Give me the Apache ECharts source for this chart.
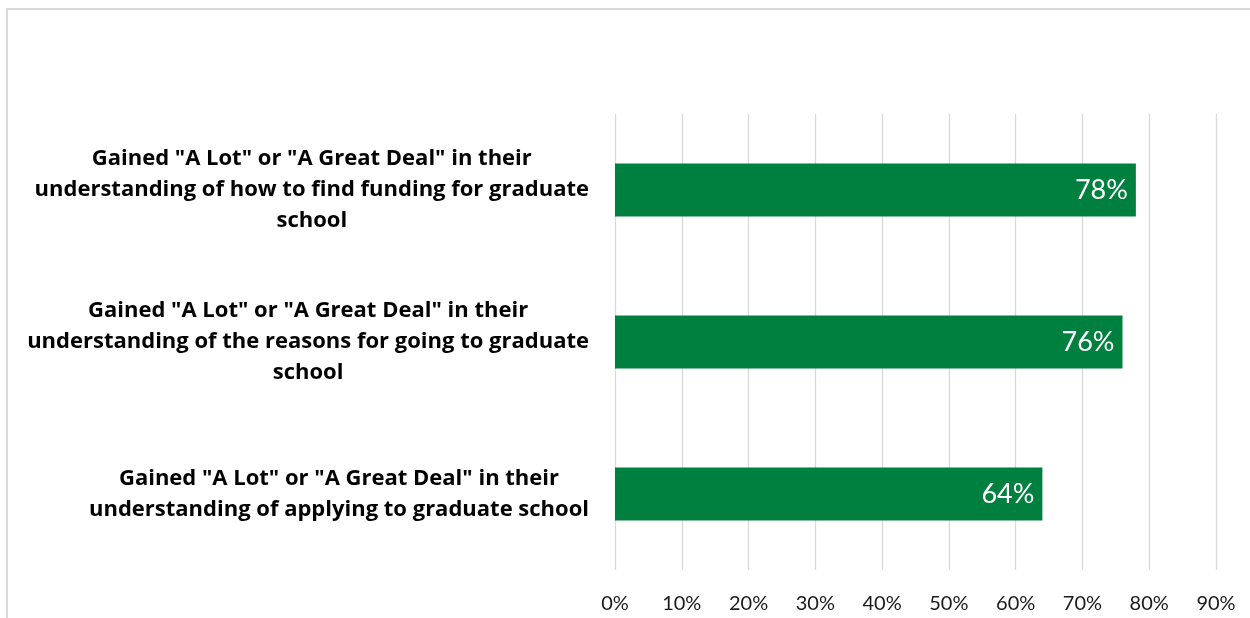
<!DOCTYPE html>
<html>
<head>
<meta charset="utf-8">
<script src="https://cdn.jsdelivr.net/npm/echarts@6/dist/echarts.min.js"></script>
<style>
  html, body { margin: 0; padding: 0; background: #fff; overflow: hidden; }
  #frame { position: absolute; left: 6px; top: 8px; width: 1400px; height: 800px; border: 2px solid #d9d9d9; box-sizing: border-box; }
  #chart { position: absolute; left: 0; top: 0; width: 1250px; height: 618px; }
</style>
</head>
<body>
<div id="frame"></div>
<div id="chart"></div>
<script>
const categories = [
  'Gained "A Lot" or "A Great Deal" in their\nunderstanding of how to find funding for graduate\nschool',
  'Gained "A Lot" or "A Great Deal" in their\nunderstanding of the reasons for going to graduate\nschool',
  'Gained "A Lot" or "A Great Deal" in their\nunderstanding of applying to graduate school'
];
const values = [78, 76, 64];
const xTicks = [0, 10, 20, 30, 40, 50, 60, 70, 80, 90];

const chart = echarts.init(document.getElementById('chart'), null, { renderer: 'canvas' });
chart.setOption({
  animation: false,
  backgroundColor: 'transparent',
  grid: { left: 615, right: 34, top: 114, bottom: 48, containLabel: false },
  xAxis: {
    type: 'value',
    min: xTicks[0],
    max: xTicks[xTicks.length - 1],
    interval: 10,
    axisLine: { show: false },
    axisTick: { show: false },
    splitLine: { show: true, lineStyle: { color: '#d9d9d9', width: 1.3 } },
    axisLabel: {
      formatter: v => v + '%',
      color: '#1a1a1a',
      fontFamily: 'Lato',
      fontSize: 20,
      margin: 24
    }
  },
  yAxis: {
    type: 'category',
    inverse: true,
    data: categories,
    axisLine: { show: false },
    axisTick: { show: false },
    splitLine: { show: false },
    axisLabel: {
      align: 'right',
      margin: 26,
      formatter: v => v.split('\n').map(l => '{c|' + l + '}').join('\n'),
      rich: {
        c: { align: 'center', fontFamily: 'Open Sans', fontWeight: 'bold', fontSize: 22, color: '#000', lineHeight: 31 }
      }
    }
  },
  series: [{
    type: 'bar',
    data: values,
    barWidth: 53,
    itemStyle: { color: '#00803f' },
    label: {
      show: true,
      position: 'insideRight',
      offset: [-3, 0],
      formatter: p => p.value + '%',
      color: '#ffffff',
      fontFamily: 'Lato',
      fontSize: 27
    }
  }]
});
</script>
</body>
</html>
